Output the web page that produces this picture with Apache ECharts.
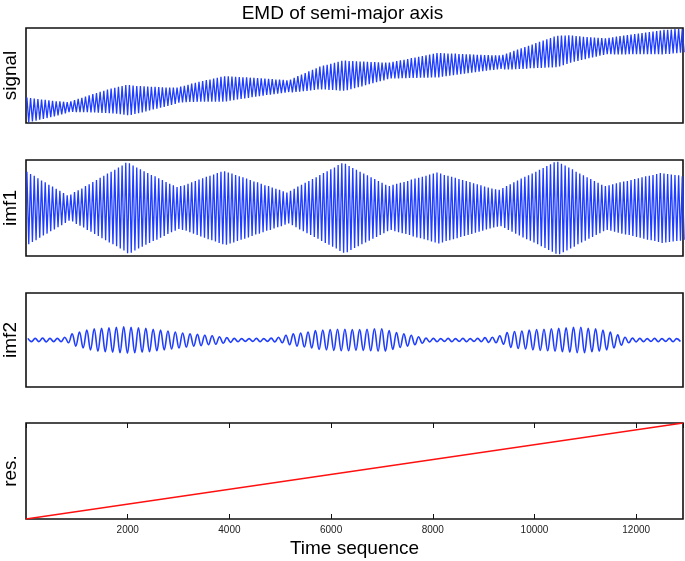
<!DOCTYPE html>
<html>
<head>
<meta charset="utf-8">
<script src="https://cdn.jsdelivr.net/npm/echarts@6/dist/echarts.min.js"></script>
<style>html,body{margin:0;padding:0;background:#fff}#c{width:685px;height:561px}</style>
</head>
<body>
<div id="c"></div>
<script>
// ---------- data ----------
const chartTitle = 'EMD of semi-major axis';
const xAxisTitle = 'Time sequence';
const panelNames = ['signal', 'imf1', 'imf2', 'res.'];
const timeMax = 12920;
const tickInterval = 2000;

// period (time units) of the fast oscillation seen in signal / imf1
const fastPeriod = 72;

// signal: top and bottom of each fast cycle (arbitrary units, 0 = panel bottom, 1 = panel top)
const signalUpper = [
  .268,.262,.258,.252,.247,.244,.238,.234,.229,.227,.224,.220,
  .228,.242,.254,.266,.279,.292,.304,.315,.328,.339,.351,.363,.371,.380,.388,.399,
  .400,.394,.390,.388,.386,.384,.382,.381,.378,.376,.374,.373,.374,.374,
  .383,.392,.403,.414,.423,.433,.441,.451,.458,.467,.476,.486,
  .492,.491,.489,.487,.484,.482,.480,.477,.475,.474,.470,.467,.465,.462,.458,.456,.454,.450,
  .458,.475,.493,.510,.526,.543,.559,.576,.594,.604,.613,.623,.633,.645,.655,
  .657,.653,.652,.650,.648,.646,.644,.642,.641,.639,.637,.636,
  .635,.644,.652,.659,.666,.674,.683,.690,.698,.705,.712,.721,.728,.736,
  .736,.733,.732,.731,.730,.726,.725,.724,.723,.721,.719,.717,.715,.714,.712,.711,
  .711,.718,.730,.745,.759,.773,.786,.800,.812,.826,.841,.854,.868,.882,.895,.909,
  .918,.920,.921,.923,.920,.916,.912,.908,.905,.902,.899,.896,.893,
  .891,.897,.903,.909,.915,.921,.925,.930,.936,.942,.947,.953,.957,.963,.969,.974,
  .980,.982,.985,.988,.990,.990
];
const signalLower = [
  .006,.016,.024,.034,.043,.052,.062,.070,.081,.091,.102,.114,
  .116,.114,.114,.114,.113,.112,.110,.109,.106,.105,.103,.101,.097,.092,.088,.081,
  .084,.094,.102,.112,.122,.132,.142,.151,.160,.170,.180,.191,.202,.214,
  .217,.220,.221,.222,.223,.223,.223,.223,.224,.225,.224,.224,
  .228,.235,.241,.247,.254,.258,.264,.271,.277,.282,.288,.295,.299,.304,.310,.314,.320,.326,
  .322,.327,.329,.334,.338,.343,.347,.352,.354,.352,.349,.347,.345,.341,.339,
  .345,.355,.366,.376,.386,.398,.408,.418,.429,.439,.449,.460,
  .469,.468,.470,.471,.472,.474,.473,.474,.476,.477,.478,.479,.480,.480,
  .488,.493,.498,.503,.508,.514,.519,.524,.529,.535,.539,.545,.551,.556,.560,.565,
  .569,.564,.564,.565,.567,.569,.570,.572,.576,.578,.579,.580,.582,.584,.585,.587,
  .594,.608,.621,.635,.644,.654,.664,.672,.681,.690,.699,.708,.717,
  .725,.725,.723,.723,.723,.723,.725,.724,.724,.724,.723,.723,.723,.723,.723,.722,
  .727,.728,.733,.736,.740,.745
];

// imf1: amplitude of each fast cycle
const imf1CycleAmp = [
  .78,.73,.69,.64,.59,.55,.50,.46,.41,.37,.32,.27,
  .29,.34,.38,.42,.47,.51,.56,.60,.65,.69,.74,.78,.82,.87,.91,.97,
  .96,.91,.87,.83,.79,.75,.71,.68,.64,.60,.56,.52,.49,.45,
  .47,.49,.52,.55,.58,.61,.64,.67,.69,.72,.75,.78,
  .79,.76,.74,.71,.68,.66,.63,.60,.57,.55,.52,.49,.47,.44,.41,.39,.36,.33,
  .37,.41,.46,.50,.54,.58,.62,.66,.71,.75,.79,.83,.87,.92,.96,
  .95,.90,.86,.82,.78,.74,.70,.66,.62,.58,.54,.50,
  .47,.50,.52,.54,.56,.58,.61,.63,.65,.67,.69,.72,.74,.76,
  .74,.71,.69,.67,.65,.62,.60,.58,.56,.53,.51,.49,.46,.44,.42,.40,
  .39,.43,.47,.51,.55,.59,.63,.67,.70,.74,.78,.82,.86,.90,.94,.98,
  .99,.95,.91,.87,.83,.78,.74,.70,.66,.62,.58,.54,.50,
  .47,.49,.51,.53,.55,.57,.58,.60,.62,.64,.66,.68,.69,.71,.73,.75,
  .74,.73,.72,.71,.70,.68
];

// imf2: period (time units) and amplitude of each cycle
const imf2Period = 145;
const imf2CycleAmp = [
  .035,.035,.04,.035,.035,.06,.13,.17,.21,.24,
  .25,.26,.27,.28,.27,.26,.25,.23,.21,.19,
  .17,.15,.13,.12,.10,.09,.07,.05,.035,.03,
  .03,.035,.03,.04,.06,.10,.13,.15,.17,.20,
  .21,.22,.23,.23,.22,.22,.23,.24,.24,.20,
  .16,.13,.10,.07,.04,.035,.03,.035,.03,.035,
  .03,.035,.05,.06,.09,.16,.18,.19,.21,.22,
  .23,.24,.25,.26,.27,.27,.25,.24,.21,.17,
  .11,.06,.04,.035,.03,.035,.03,.035,.03
];

// residual trend (end points)
const resTime = [0, timeMax];
const resValues = [0.137, 0.863];

// ---------- build series: each cycle gives its top then its bottom ----------
function cyclesToPoints(period, tops, bottoms) {
  const pts = [];
  tops.forEach((top, k) => {
    pts.push([k * period + period / 4, top]);
    pts.push([k * period + 3 * period / 4, bottoms[k]]);
  });
  return pts;
}
const signalData = cyclesToPoints(fastPeriod, signalUpper, signalLower);
const imf1Data = cyclesToPoints(fastPeriod, imf1CycleAmp, imf1CycleAmp.map(a => -a));
const imf2Data = cyclesToPoints(imf2Period, imf2CycleAmp, imf2CycleAmp.map(a => -a));
const resData = resTime.map((t, i) => [t, resValues[i]]);

const FONT = '"Liberation Sans", Arial, Helvetica, sans-serif';
const BLUE = '#1f3dff';
const grids = [
  {top: 28, height: 95},
  {top: 160, height: 96},
  {top: 293, height: 94},
  {top: 423, height: 96}
].map(g => Object.assign({left: 26, right: 2, show: true, containLabel: false, outerBoundsMode: 'none',
  borderColor: '#111', borderWidth: 1.6, backgroundColor: 'transparent'}, g));

const yRanges = [[0, 1], [-1.03, 1.03], [-1, 1], [resValues[0], resValues[1]]];

const xAxes = [0, 1, 2].map(i => ({
  gridIndex: i, type: 'value', min: 0, max: timeMax, show: false
}));
const tickBase = {
  type: 'value', min: 0, max: timeMax, interval: tickInterval, gridIndex: 3,
  axisLine: {show: false}, splitLine: {show: false},
  axisTick: {show: true, inside: true, length: 5, lineStyle: {color: '#111', width: 1}}
};
xAxes.push(Object.assign({}, tickBase, {
  position: 'bottom',
  axisLabel: {show: true, fontSize: 10, color: '#222', fontFamily: FONT, margin: 6, showMinLabel: false, showMaxLabel: false,
    formatter: v => (v % tickInterval === 0 && v > 0) ? String(v) : ''},
  name: xAxisTitle, nameLocation: 'middle', nameGap: 20,
  nameTextStyle: {fontSize: 19, color: '#000', fontFamily: FONT}
}));
xAxes.push(Object.assign({}, tickBase, {position: 'top', axisLabel: {show: false}}));

const yAxes = yRanges.map((r, i) => ({
  gridIndex: i, type: 'value', min: r[0], max: r[1],
  axisLine: {show: false}, axisTick: {show: false}, axisLabel: {show: false}, splitLine: {show: false},
  name: panelNames[i], nameLocation: 'middle', nameGap: 6, nameRotate: 90,
  nameTextStyle: {fontSize: 19, color: '#000', fontFamily: FONT}
}));

const lineBase = {type: 'line', showSymbol: false, animation: false, clip: true, smooth: false};
const series = [
  Object.assign({}, lineBase, {xAxisIndex: 0, yAxisIndex: 0, data: signalData, lineStyle: {color: BLUE, width: 1.3}}),
  Object.assign({}, lineBase, {xAxisIndex: 1, yAxisIndex: 1, data: imf1Data, lineStyle: {color: BLUE, width: 1.3}}),
  Object.assign({}, lineBase, {xAxisIndex: 2, yAxisIndex: 2, data: imf2Data, smooth: 0.4, lineStyle: {color: BLUE, width: 1.6}}),
  Object.assign({}, lineBase, {xAxisIndex: 3, yAxisIndex: 3, data: resData, lineStyle: {color: '#ff1010', width: 1.5}})
];

const chart = echarts.init(document.getElementById('c'), null, {renderer: 'canvas'});
chart.setOption({
  animation: false,
  backgroundColor: '#fff',
  title: {text: chartTitle, left: 'center', top: 4, padding: 0, textStyle: {fontSize: 19, fontWeight: 'normal', color: '#000', fontFamily: FONT}},
  grid: grids,
  xAxis: xAxes,
  yAxis: yAxes,
  series: series
});
</script>
</body>
</html>
